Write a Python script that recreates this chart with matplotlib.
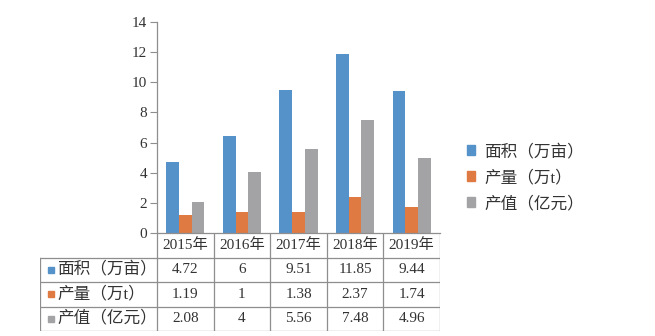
import matplotlib
matplotlib.use("Agg")
import matplotlib.pyplot as plt
from matplotlib.patches import Patch
import numpy as np

years = ["2015年", "2016年", "2017年", "2018年", "2019年"]
series = ["面积（万亩）", "产量（万t）", "产值（亿元）"]
area = [4.72, 6.45, 9.51, 11.85, 9.44]
output = [1.19, 1.38, 1.38, 2.37, 1.74]
value = [2.08, 4.04, 5.56, 7.48, 4.96]
table_text = [
    ["4.72", "6", "9.51", "11.85", "9.44"],
    ["1.19", "1", "1.38", "2.37", "1.74"],
    ["2.08", "4", "5.56", "7.48", "4.96"],
]
colors = ["#5592c9", "#e07a43", "#a3a3a6"]

fam = ["Liberation Serif", "Noto Sans CJK SC"]
plt.rcParams["font.family"] = fam
plt.rcParams["font.size"] = 10
line_c = "#8e8e8e"
txt_c = "#333333"

W, H = 655, 336
fig = plt.figure(figsize=(W / 100, H / 100), dpi=100)
ax = fig.add_axes([157 / W, (H - 233) / H, (440 - 157) / W, (233 - 22) / H])

x = np.arange(len(years))
bw = 0.225
for i, vals in enumerate([area, output, value]):
    ax.bar(x + (i - 1) * bw, vals, bw, color=colors[i], label=series[i])

ax.set_xlim(-0.5, len(years) - 0.5)
ax.set_ylim(0, 14)
ax.set_yticks(range(0, 15, 2))
ax.set_xticks([])
for s in ["top", "right"]:
    ax.spines[s].set_visible(False)
for s in ["left", "bottom"]:
    ax.spines[s].set_color(line_c)
    ax.spines[s].set_linewidth(0.9)
ax.tick_params(axis="y", length=5, color=line_c, pad=2, labelsize=11, labelcolor=txt_c)

# data table under the axes
cat_px = (440 - 157) / len(years)
lab_w = (157 - 40) / cat_px
tab = fig.add_axes([40 / W, (H - 331) / H, (440 - 40) / W, (331 - 233) / H])
tab.set_xlim(-0.5 - lab_w, len(years) - 0.5)
tab.set_ylim(0, 4)
tab.axis("off")
x0 = -0.5 - lab_w
for yy in [0, 1, 2, 3]:
    tab.plot([x0, len(years) - 0.5], [yy, yy], color=line_c, lw=0.9)
tab.plot([x0, x0], [0, 3], color=line_c, lw=0.9)
for xx in np.arange(len(years) + 1) - 0.5:
    tab.plot([xx, xx], [0, 4], color=line_c, lw=0.9)
for j, yr in enumerate(years):
    tab.text(j, 3.5, yr, ha="center", va="center", fontsize=11, color=txt_c)
for i, row in enumerate(table_text):
    yy = 2.5 - i
    tab.plot([x0 + 0.19], [yy], marker="s", ms=5, color=colors[i], ls="none")
    tab.text(x0 + 0.3, yy, series[i], ha="left", va="center", fontsize=12, color=txt_c)
    for j, t in enumerate(row):
        tab.text(j, yy, t, ha="center", va="center", fontsize=11, color=txt_c)

handles = [Patch(color=colors[i], label=series[i]) for i in range(3)]
fig.legend(handles=handles, loc="center left", bbox_to_anchor=(452 / W, 1 - 178 / H),
           frameon=False, handlelength=0.5, handleheight=0.5, handletextpad=0.55,
           labelspacing=0.6, fontsize=12, labelcolor=txt_c)

fig.savefig("out.png", dpi=100)
